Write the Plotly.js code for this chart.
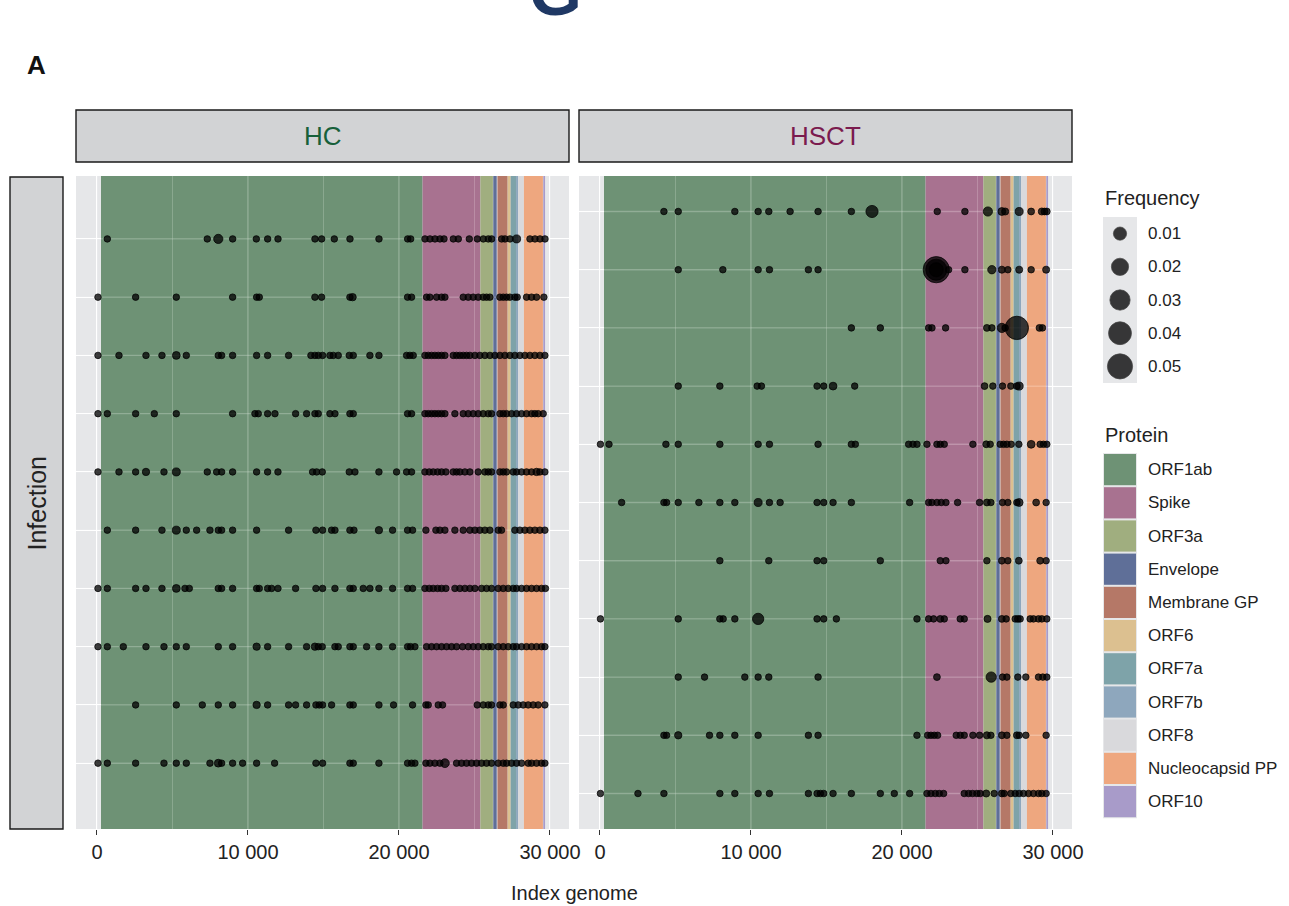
<!DOCTYPE html>
<html>
<head>
<meta charset="utf-8">
<script src="https://cdn.plot.ly/plotly-3.0.1.min.js"></script>
<style>
  html, body { margin: 0; padding: 0; background: #ffffff; }
  #chart { width: 1289px; height: 906px; }
</style>
</head>
<body>
<div id="chart"></div>
<script>
// ---------- genome annotation (SARS-CoV-2 reference coordinates) ----------
const proteinNames = ['ORF1ab', 'Spike', 'ORF3a', 'Envelope', 'Membrane GP', 'ORF6',
                      'ORF7a', 'ORF7b', 'ORF8', 'Nucleocapsid PP', 'ORF10'];
const proteinStart = [266, 21563, 25393, 26245, 26523, 27202, 27394, 27756, 27894, 28274, 29558];
const proteinEnd   = [21555, 25384, 26220, 26472, 27191, 27387, 27759, 27887, 28259, 29533, 29674];

// ---------- mutations: [genome index, frequency], one array per sample ----------
// HC group, sample 1 (bottom) ... sample 10 (top)
const HC_01 = [[66,10e-4],[684,10e-4],[2560,10e-4],[4436,10e-4],[5252,10e-4],[5914,10e-4],[7481,10e-4],[8033,20e-4],[8254,10e-4],[8982,10e-4],[9644,10e-4],[10571,10e-4],[11763,10e-4],[14500,10e-4],[14941,10e-4],[16751,10e-4],[16972,10e-4],[18671,10e-4],[20569,10e-4],[20834,10e-4],[21055,10e-4],[21783,10e-4],[22048,10e-4],[22379,10e-4],[22710,10e-4],[23041,30e-4],[23813,10e-4],[24144,10e-4],[24475,10e-4],[24806,10e-4],[25137,10e-4],[25468,10e-4],[25799,10e-4],[26131,10e-4],[26572,10e-4],[26904,10e-4],[27124,10e-4],[27455,10e-4],[27786,10e-4],[28117,10e-4],[28558,10e-4],[28779,10e-4],[29110,10e-4],[29441,10e-4],[29662,10e-4]];
const HC_02 = [[2560,10e-4],[5252,10e-4],[6974,10e-4],[8033,10e-4],[8982,10e-4],[10571,16e-4],[11300,10e-4],[12690,10e-4],[13154,10e-4],[13882,10e-4],[14500,10e-4],[14720,10e-4],[14941,10e-4],[15537,10e-4],[16751,10e-4],[16972,10e-4],[18671,10e-4],[19642,10e-4],[20900,10e-4],[21783,10e-4],[21937,10e-4],[22600,10e-4],[22887,10e-4],[25182,10e-4],[25579,10e-4],[25910,10e-4],[26131,10e-4],[26683,10e-4],[26904,10e-4],[27565,10e-4],[27896,10e-4],[28227,10e-4],[28558,10e-4],[28889,10e-4],[29220,10e-4],[29662,10e-4]];
const HC_03 = [[66,10e-4],[684,10e-4],[1743,10e-4],[3244,10e-4],[4436,10e-4],[5252,10e-4],[5914,10e-4],[8033,10e-4],[8982,10e-4],[10571,16e-4],[11300,10e-4],[12690,10e-4],[13882,10e-4],[14433,16e-4],[14654,10e-4],[14919,10e-4],[15758,10e-4],[15978,10e-4],[16751,10e-4],[16972,10e-4],[17855,10e-4],[18671,10e-4],[19576,10e-4],[20569,10e-4],[20768,10e-4],[21055,10e-4],[21827,10e-4],[22158,10e-4],[22489,10e-4],[22820,10e-4],[23151,10e-4],[23482,10e-4],[23813,10e-4],[24210,10e-4],[24586,10e-4],[24917,10e-4],[25248,10e-4],[25579,10e-4],[25910,10e-4],[26131,10e-4],[26572,10e-4],[26904,10e-4],[27235,10e-4],[27565,10e-4],[27786,10e-4],[28117,10e-4],[28448,10e-4],[28779,10e-4],[29110,10e-4],[29441,10e-4],[29662,10e-4]];
const HC_04 = [[66,10e-4],[684,10e-4],[2560,10e-4],[3244,10e-4],[4303,10e-4],[5252,20e-4],[5826,10e-4],[6113,10e-4],[8033,10e-4],[8254,10e-4],[8982,10e-4],[10571,10e-4],[10748,10e-4],[11300,10e-4],[11565,10e-4],[11984,10e-4],[13154,10e-4],[14500,10e-4],[14941,10e-4],[15758,10e-4],[16751,10e-4],[16972,10e-4],[17634,10e-4],[18075,10e-4],[18671,10e-4],[19576,10e-4],[20569,10e-4],[20900,10e-4],[21717,10e-4],[22004,10e-4],[22269,10e-4],[22556,10e-4],[22821,10e-4],[23107,10e-4],[23703,10e-4],[24034,10e-4],[24365,10e-4],[24696,10e-4],[25027,10e-4],[25469,10e-4],[25800,10e-4],[26131,10e-4],[26572,10e-4],[26904,10e-4],[27235,10e-4],[27565,10e-4],[27786,10e-4],[28117,10e-4],[28448,10e-4],[28779,10e-4],[29110,10e-4],[29441,10e-4],[29700,10e-4]];
const HC_05 = [[684,10e-4],[2560,10e-4],[4303,10e-4],[5252,22e-4],[5914,10e-4],[6599,10e-4],[7481,10e-4],[8033,10e-4],[8254,10e-4],[8982,10e-4],[10571,10e-4],[12690,10e-4],[14500,10e-4],[14941,10e-4],[15537,10e-4],[15758,10e-4],[16751,10e-4],[17016,10e-4],[18671,16e-4],[19576,10e-4],[20569,10e-4],[20900,10e-4],[21783,10e-4],[22445,10e-4],[22710,10e-4],[23041,10e-4],[23703,10e-4],[24255,10e-4],[24696,10e-4],[25027,10e-4],[25358,10e-4],[25689,10e-4],[26020,10e-4],[26572,10e-4],[26793,10e-4],[27676,10e-4],[28007,10e-4],[28338,10e-4],[28669,10e-4],[29000,10e-4],[29331,10e-4],[29662,10e-4]];
const HC_06 = [[66,10e-4],[1456,10e-4],[2560,10e-4],[3244,16e-4],[4436,10e-4],[5252,22e-4],[7305,10e-4],[7923,10e-4],[8254,10e-4],[8982,10e-4],[10571,10e-4],[11300,10e-4],[11984,10e-4],[14279,10e-4],[14544,10e-4],[14919,10e-4],[16707,10e-4],[17082,10e-4],[18671,10e-4],[19841,10e-4],[20503,10e-4],[20834,10e-4],[21717,10e-4],[22004,10e-4],[22269,10e-4],[22556,10e-4],[22821,10e-4],[23107,10e-4],[23593,10e-4],[23813,10e-4],[24034,10e-4],[24365,10e-4],[24696,10e-4],[25248,10e-4],[25689,10e-4],[25910,10e-4],[26131,10e-4],[26683,10e-4],[26904,10e-4],[27124,10e-4],[27565,10e-4],[27786,10e-4],[28117,10e-4],[28448,10e-4],[28779,10e-4],[29110,16e-4],[29331,10e-4],[29662,10e-4]];
const HC_07 = [[66,10e-4],[684,10e-4],[2560,10e-4],[3796,10e-4],[5252,10e-4],[8982,10e-4],[10461,10e-4],[10682,10e-4],[11300,10e-4],[11785,10e-4],[13154,10e-4],[13882,10e-4],[14433,10e-4],[14654,10e-4],[15427,10e-4],[15758,10e-4],[16751,10e-4],[16972,10e-4],[20569,10e-4],[20834,10e-4],[21717,10e-4],[21938,10e-4],[22159,10e-4],[22379,10e-4],[22600,10e-4],[22821,10e-4],[23042,10e-4],[23703,10e-4],[24255,10e-4],[24586,10e-4],[24917,10e-4],[25248,10e-4],[25579,10e-4],[25910,10e-4],[26131,10e-4],[26683,10e-4],[26904,10e-4],[27124,10e-4],[27455,10e-4],[27786,10e-4],[28117,10e-4],[28448,10e-4],[28779,10e-4],[29000,10e-4],[29220,10e-4],[29551,10e-4]];
const HC_08 = [[66,10e-4],[1456,10e-4],[3244,10e-4],[4303,10e-4],[5252,20e-4],[5914,10e-4],[8033,10e-4],[8254,10e-4],[8982,10e-4],[10571,10e-4],[11300,10e-4],[12690,10e-4],[14169,10e-4],[14433,10e-4],[14654,10e-4],[14941,10e-4],[15427,10e-4],[15647,10e-4],[15978,10e-4],[16707,10e-4],[16972,10e-4],[18075,10e-4],[18671,10e-4],[20503,10e-4],[20723,10e-4],[20944,10e-4],[21717,10e-4],[21938,10e-4],[22159,10e-4],[22379,10e-4],[22600,10e-4],[22821,10e-4],[23042,10e-4],[23593,10e-4],[23813,10e-4],[24034,10e-4],[24255,10e-4],[24476,10e-4],[24696,10e-4],[25027,10e-4],[25358,10e-4],[25689,10e-4],[26020,10e-4],[26351,10e-4],[26683,10e-4],[27014,10e-4],[27345,10e-4],[27676,10e-4],[28007,10e-4],[28338,10e-4],[28669,10e-4],[29000,10e-4],[29331,10e-4],[29662,10e-4]];
const HC_09 = [[66,10e-4],[2560,10e-4],[5252,10e-4],[8982,10e-4],[10571,10e-4],[10748,10e-4],[14433,10e-4],[14875,10e-4],[16751,10e-4],[16927,16e-4],[20569,10e-4],[20834,10e-4],[21827,10e-4],[22048,10e-4],[22489,10e-4],[22820,10e-4],[23041,10e-4],[24255,10e-4],[24586,10e-4],[24917,10e-4],[25248,10e-4],[25579,10e-4],[25800,10e-4],[26020,10e-4],[26683,10e-4],[26904,10e-4],[27124,10e-4],[27345,10e-4],[27676,10e-4],[27830,10e-4],[28448,10e-4],[28779,10e-4],[29110,10e-4],[29596,10e-4]];
const HC_10 = [[684,10e-4],[7305,10e-4],[8033,35e-4],[8985,10e-4],[10552,10e-4],[11302,10e-4],[11987,10e-4],[14437,10e-4],[14878,10e-4],[15717,10e-4],[16755,10e-4],[18675,10e-4],[20574,10e-4],[20773,10e-4],[21722,10e-4],[22053,10e-4],[22384,10e-4],[22715,10e-4],[22980,10e-4],[23598,10e-4],[23929,10e-4],[24658,10e-4],[25188,10e-4],[25585,10e-4],[25916,10e-4],[26137,10e-4],[26799,10e-4],[27020,10e-4],[27351,10e-4],[27792,22e-4],[28675,10e-4],[29006,10e-4],[29338,10e-4],[29669,10e-4]];
const hcSamples = [HC_01, HC_02, HC_03, HC_04, HC_05, HC_06, HC_07, HC_08, HC_09, HC_10];

// HSCT group, sample 1 (bottom) ... sample 11 (top)
const HSCT_01 = [[30,10e-4],[2514,10e-4],[4234,10e-4],[7938,10e-4],[8930,10e-4],[10474,10e-4],[11223,10e-4],[13803,10e-4],[14377,10e-4],[14597,10e-4],[14818,10e-4],[15435,10e-4],[16648,10e-4],[18566,10e-4],[19492,10e-4],[20506,10e-4],[21653,10e-4],[21918,10e-4],[22204,10e-4],[22469,10e-4],[22756,10e-4],[24123,10e-4],[24409,10e-4],[24674,10e-4],[24961,10e-4],[25181,10e-4],[25578,14e-4],[26107,10e-4],[26614,12e-4],[26769,10e-4],[27208,10e-4],[27497,10e-4],[27761,10e-4],[28048,10e-4],[28379,10e-4],[28709,10e-4],[29040,10e-4],[29260,10e-4],[29547,10e-4]];
const HSCT_02 = [[4234,10e-4],[4410,10e-4],[5182,16e-4],[7254,10e-4],[7938,10e-4],[8930,10e-4],[10474,10e-4],[13803,10e-4],[14443,10e-4],[20992,10e-4],[21697,10e-4],[21918,10e-4],[22138,10e-4],[22359,10e-4],[23593,10e-4],[23858,10e-4],[24123,10e-4],[24696,10e-4],[25137,10e-4],[25622,14e-4],[25887,10e-4],[26614,12e-4],[26945,10e-4],[27607,12e-4],[27761,10e-4],[28202,10e-4],[29547,10e-4]];
const HSCT_03 = [[5182,10e-4],[6924,10e-4],[9592,10e-4],[10474,10e-4],[11179,10e-4],[14443,10e-4],[22315,12e-4],[25909,50e-4],[26657,10e-4],[26945,10e-4],[27673,10e-4],[28202,10e-4],[29040,10e-4],[29326,10e-4],[29591,10e-4]];
const HSCT_04 = [[30,10e-4],[5182,10e-4],[7938,10e-4],[8158,10e-4],[8930,10e-4],[10474,65e-4],[14377,10e-4],[14818,10e-4],[15655,10e-4],[20992,10e-4],[21763,10e-4],[22094,10e-4],[22535,12e-4],[22800,10e-4],[23858,10e-4],[24123,10e-4],[25666,14e-4],[26614,12e-4],[26901,10e-4],[27497,10e-4],[27673,12e-4],[27827,10e-4],[28489,10e-4],[28709,10e-4],[29040,10e-4],[29260,10e-4],[29591,10e-4]];
const HSCT_05 = [[7938,10e-4],[11179,10e-4],[14377,10e-4],[14818,10e-4],[18566,10e-4],[22535,10e-4],[22910,10e-4],[25622,10e-4],[26614,12e-4],[27011,10e-4],[27739,12e-4],[29150,12e-4],[29547,10e-4]];
const HSCT_06 = [[1433,10e-4],[4234,10e-4],[4410,10e-4],[5182,10e-4],[6549,10e-4],[7938,10e-4],[8930,10e-4],[10474,22e-4],[11223,10e-4],[11929,10e-4],[14377,10e-4],[14818,10e-4],[15435,10e-4],[16648,10e-4],[20506,10e-4],[21763,10e-4],[21984,10e-4],[22315,10e-4],[22601,10e-4],[22910,10e-4],[23682,10e-4],[25137,10e-4],[25622,12e-4],[25887,10e-4],[26657,10e-4],[27011,10e-4],[27607,10e-4],[27761,20e-4],[28885,12e-4],[29547,10e-4]];
const HSCT_07 = [[30,10e-4],[595,10e-4],[4366,10e-4],[5182,10e-4],[7938,10e-4],[10474,10e-4],[11223,10e-4],[14443,10e-4],[16648,10e-4],[16912,10e-4],[20440,10e-4],[20727,10e-4],[20992,10e-4],[21653,10e-4],[22315,10e-4],[22535,10e-4],[22800,10e-4],[24696,10e-4],[25578,12e-4],[25843,10e-4],[26504,10e-4],[26725,10e-4],[26945,10e-4],[27232,10e-4],[27739,10e-4],[28555,20e-4],[29150,10e-4],[29371,10e-4],[29591,10e-4]];
const HSCT_08 = [[5182,10e-4],[7938,10e-4],[10408,10e-4],[10694,10e-4],[14377,10e-4],[14818,10e-4],[15435,20e-4],[16868,10e-4],[25467,12e-4],[26018,10e-4],[26657,10e-4],[27208,10e-4],[27607,12e-4],[27761,22e-4]];
const HSCT_09 = [[16648,10e-4],[18566,10e-4],[21763,10e-4],[21984,10e-4],[22888,10e-4],[25622,12e-4],[25953,10e-4],[26614,35e-4],[26835,10e-4],[27607,420e-4],[29106,12e-4],[29304,10e-4]];
const HSCT_10 = [[5182,10e-4],[8136,10e-4],[10474,10e-4],[11223,10e-4],[13803,10e-4],[14443,10e-4],[22270,550e-4],[22270,330e-4],[22270,120e-4],[23086,10e-4],[24167,10e-4],[25953,25e-4],[26614,14e-4],[27011,10e-4],[27761,14e-4],[28555,10e-4],[29547,14e-4]];
const HSCT_11 = [[4234,10e-4],[5182,10e-4],[8930,10e-4],[10474,10e-4],[11179,10e-4],[12591,10e-4],[14443,10e-4],[16648,10e-4],[18015,80e-4],[22337,10e-4],[24167,10e-4],[25688,35e-4],[26614,20e-4],[26835,14e-4],[27761,22e-4],[28555,12e-4],[29260,14e-4],[29437,12e-4],[29591,12e-4]];
const hsctSamples = [HSCT_01, HSCT_02, HSCT_03, HSCT_04, HSCT_05, HSCT_06, HSCT_07, HSCT_08, HSCT_09, HSCT_10, HSCT_11];

// ---------- legend and tick text ----------
const frequencyBreaks = [0.01, 0.02, 0.03, 0.04, 0.05];
const frequencyLabels = ['0.01', '0.02', '0.03', '0.04', '0.05'];
const genomeTicks = [0, 10000, 20000, 30000];
const genomeTickText = ['0', '10 000', '20 000', '30 000'];
const genomeMinorTicks = [5000, 15000, 25000];
const groupNames = ['HC', 'HSCT'];

// ---------- styling ----------
const W = 1289, H = 906;
const FONT = 'Liberation Sans, Arial, Helvetica, sans-serif';
const INK = '#222222';
const PANEL_BG = '#E6E7E9';
const STRIP_BG = '#D2D3D5';
const proteinRGB = [[80,125,87],[153,85,121],[143,160,100],[61,81,131],[169,93,70],[218,183,121],
                    [100,146,152],[120,151,178],[214,214,216],[240,151,100],[153,136,192]];
const FILL_ALPHA = 0.8;
const proteinFill = proteinRGB.map(c => `rgba(${c[0]},${c[1]},${c[2]},${FILL_ALPHA})`);
const groupColors = ['#17603a', '#7b1b4e'];
const POINT_FILL = 'rgba(0,0,0,0.76)';
const POINT_LINE = 'rgba(0,0,0,0.9)';
const KEY_FILL = 'rgba(10,10,10,0.8)';
const GRID_GLOW = 'rgba(255,255,255,0.22)';
// marker diameter grows with the square root of the frequency (area scale)
const sizeOf = f => 3.5 + 97 * Math.sqrt(f);

// pixel helpers for paper coordinates
const px = v => v / W;
const py = v => 1 - v / H;

const panelTop = 176, panelBottom = 829;
const panels = [
  { left: 76,  right: 569,  xa: 'x',  ya: 'y',  samples: hcSamples,   yRange: [-0.13, 11.08] },
  { left: 579, right: 1072, xa: 'x2', ya: 'y2', samples: hsctSamples, yRange: [0.39, 11.61] }
];
const xRange = [-1390, 31260];

const traces = [];
const shapes = [];
const annotations = [];

panels.forEach((p, pi) => {
  // panel background
  shapes.push({ type: 'rect', xref: 'paper', yref: 'paper', layer: 'below',
    x0: px(p.left), x1: px(p.right), y0: py(panelBottom), y1: py(panelTop),
    fillcolor: PANEL_BG, line: { width: 0 } });

  // protein regions as translucent bands spanning the panel height
  proteinNames.forEach((name, k) => {
    const y0 = p.yRange[0], y1 = p.yRange[1];
    traces.push({
      type: 'scatter', mode: 'lines', xaxis: p.xa, yaxis: p.ya,
      x: [proteinStart[k], proteinEnd[k], proteinEnd[k], proteinStart[k], proteinStart[k]],
      y: [y0, y0, y1, y1, y0],
      fill: 'toself', fillcolor: proteinFill[k], line: { width: 0 },
      hoverinfo: 'skip', showlegend: false, name: name
    });
  });

  // grid lines shimmering faintly through the coloured bands
  const rowsY = p.samples.map((r, i) => i + 1);
  const gx = [], gy = [];
  rowsY.forEach(v => { gx.push(xRange[0], xRange[1], null); gy.push(v, v, null); });
  genomeTicks.forEach(v => { gx.push(v, v, null); gy.push(p.yRange[0], p.yRange[1], null); });
  traces.push({ type: 'scatter', mode: 'lines', xaxis: p.xa, yaxis: p.ya, x: gx, y: gy,
    line: { color: GRID_GLOW, width: 1.4 }, hoverinfo: 'skip', showlegend: false });
  const mx = [], my = [];
  genomeMinorTicks.forEach(v => { mx.push(v, v, null); my.push(p.yRange[0], p.yRange[1], null); });
  traces.push({ type: 'scatter', mode: 'lines', xaxis: p.xa, yaxis: p.ya, x: mx, y: my,
    line: { color: GRID_GLOW, width: 0.8 }, hoverinfo: 'skip', showlegend: false });

  // mutation points
  const xs = [], ys = [], sz = [], tx = [];
  p.samples.forEach((row, i) => {
    row.forEach(([pos, f]) => {
      xs.push(pos); ys.push(i + 1); sz.push(sizeOf(f));
      tx.push(`Index ${pos}<br>Frequency ${f}`);
    });
  });
  traces.push({
    type: 'scatter', mode: 'markers', xaxis: p.xa, yaxis: p.ya,
    x: xs, y: ys, text: tx, hoverinfo: 'text',
    marker: { size: sz, color: POINT_FILL, opacity: 1, line: { color: POINT_LINE, width: 0.8 } },
    showlegend: false
  });

  // facet strip
  shapes.push({ type: 'rect', xref: 'paper', yref: 'paper',
    x0: px(p.left), x1: px(p.right), y0: py(162), y1: py(110),
    fillcolor: STRIP_BG, line: { color: '#1a1a1a', width: 1.4 } });
  annotations.push({ xref: 'paper', yref: 'paper', x: px((p.left + p.right) / 2), y: py(136),
    xanchor: 'center', yanchor: 'middle', showarrow: false, text: groupNames[pi],
    font: { family: FONT, size: 26, color: groupColors[pi] } });
});

// row strip on the left
shapes.push({ type: 'rect', xref: 'paper', yref: 'paper',
  x0: px(10), x1: px(63), y0: py(829), y1: py(177),
  fillcolor: STRIP_BG, line: { color: '#1a1a1a', width: 1.4 } });
annotations.push({ xref: 'paper', yref: 'paper', x: px(36.5), y: py(503), textangle: -90,
  xanchor: 'center', yanchor: 'middle', showarrow: false, text: 'Infection',
  font: { family: FONT, size: 25, color: INK } });

// panel tag and header glyph
annotations.push({ xref: 'paper', yref: 'paper', x: px(36), y: py(65),
  xanchor: 'center', yanchor: 'middle', showarrow: false, text: 'A',
  font: { family: FONT, size: 26, color: '#111111', weight: 'bold' } });
annotations.push({ xref: 'paper', yref: 'paper', x: px(555), y: py(31),
  xanchor: 'center', yanchor: 'bottom', showarrow: false, text: 'G',
  font: { family: FONT, size: 68, color: '#1f3864', weight: 'bold' } });

// x-axis title shared by both panels
annotations.push({ xref: 'paper', yref: 'paper', x: px(574), y: py(893),
  xanchor: 'center', yanchor: 'middle', showarrow: false, text: 'Index genome',
  font: { family: FONT, size: 20, color: INK } });

// ---------- size legend ----------
const keyX0 = 1103, keyX1 = 1137, keyH = 33.2;
const freqTop = 217;
annotations.push({ xref: 'paper', yref: 'paper', x: px(1103), y: py(198),
  xanchor: 'left', yanchor: 'middle', showarrow: false, text: 'Frequency',
  font: { family: FONT, size: 20, color: INK } });
shapes.push({ type: 'rect', xref: 'paper', yref: 'paper', layer: 'below',
  x0: px(keyX0), x1: px(keyX1), y0: py(freqTop + keyH * frequencyBreaks.length), y1: py(freqTop),
  fillcolor: PANEL_BG, line: { width: 0 } });
traces.push({
  type: 'scatter', mode: 'markers', xaxis: 'x3', yaxis: 'y3',
  x: frequencyBreaks.map(() => (keyX0 + keyX1) / 2),
  y: frequencyBreaks.map((b, i) => freqTop + keyH * (i + 0.5)),
  marker: { size: frequencyBreaks.map(sizeOf), color: KEY_FILL, opacity: 1, line: { color: 'rgba(70,70,70,0.9)', width: 0.8 } },
  hoverinfo: 'skip', showlegend: false
});
frequencyLabels.forEach((lab, i) => {
  annotations.push({ xref: 'paper', yref: 'paper', x: px(1146), y: py(freqTop + keyH * (i + 0.5)),
    xanchor: 'left', yanchor: 'middle', showarrow: false, text: lab,
    font: { family: FONT, size: 17, color: INK } });
});

// ---------- protein legend ----------
const protTop = 453;
annotations.push({ xref: 'paper', yref: 'paper', x: px(1103), y: py(435),
  xanchor: 'left', yanchor: 'middle', showarrow: false, text: 'Protein',
  font: { family: FONT, size: 20, color: INK } });
shapes.push({ type: 'rect', xref: 'paper', yref: 'paper', layer: 'below',
  x0: px(keyX0), x1: px(keyX1), y0: py(protTop + keyH * proteinNames.length), y1: py(protTop),
  fillcolor: PANEL_BG, line: { width: 0 } });
proteinNames.forEach((name, k) => {
  const t = protTop + keyH * k;
  shapes.push({ type: 'rect', xref: 'paper', yref: 'paper',
    x0: px(keyX0 + 1), x1: px(keyX1 - 1), y0: py(t + keyH - 1), y1: py(t + 1),
    fillcolor: proteinFill[k], line: { width: 0 } });
  annotations.push({ xref: 'paper', yref: 'paper', x: px(1146), y: py(t + keyH / 2),
    xanchor: 'left', yanchor: 'middle', showarrow: false, text: name,
    font: { family: FONT, size: 17, color: INK } });
});

// ---------- axes ----------
function genomeAxis(p) {
  return {
    domain: [px(p.left), px(p.right)], range: xRange, anchor: p.ya,
    tickvals: genomeTicks, ticktext: genomeTickText,
    ticks: 'outside', ticklen: 5, tickwidth: 1.1, tickcolor: '#333333',
    tickfont: { family: FONT, size: 20, color: INK },
    showgrid: true, gridcolor: '#ffffff', gridwidth: 1.2,
    minor: { tickvals: genomeMinorTicks, showgrid: true, gridcolor: '#ffffff', gridwidth: 0.6, ticks: '' },
    zeroline: false, showline: false, fixedrange: true
  };
}
function sampleAxis(p) {
  return {
    domain: [py(panelBottom), py(panelTop)], range: p.yRange, anchor: p.xa,
    tickvals: p.samples.map((r, i) => i + 1), showticklabels: false, ticks: '',
    showgrid: true, gridcolor: '#ffffff', gridwidth: 1.2,
    zeroline: false, showline: false, fixedrange: true
  };
}

const layout = {
  width: W, height: H,
  margin: { l: 0, r: 0, t: 0, b: 0, pad: 0 },
  paper_bgcolor: '#ffffff', plot_bgcolor: 'rgba(0,0,0,0)',
  font: { family: FONT, color: INK },
  showlegend: false,
  xaxis: genomeAxis(panels[0]), yaxis: sampleAxis(panels[0]),
  xaxis2: genomeAxis(panels[1]), yaxis2: sampleAxis(panels[1]),
  xaxis3: { domain: [0, 1], range: [0, W], anchor: 'y3', visible: false, fixedrange: true },
  yaxis3: { domain: [0, 1], range: [H, 0], anchor: 'x3', visible: false, fixedrange: true },
  shapes: shapes, annotations: annotations
};

Plotly.newPlot('chart', traces, layout, { displayModeBar: false });
</script>
</body>
</html>
